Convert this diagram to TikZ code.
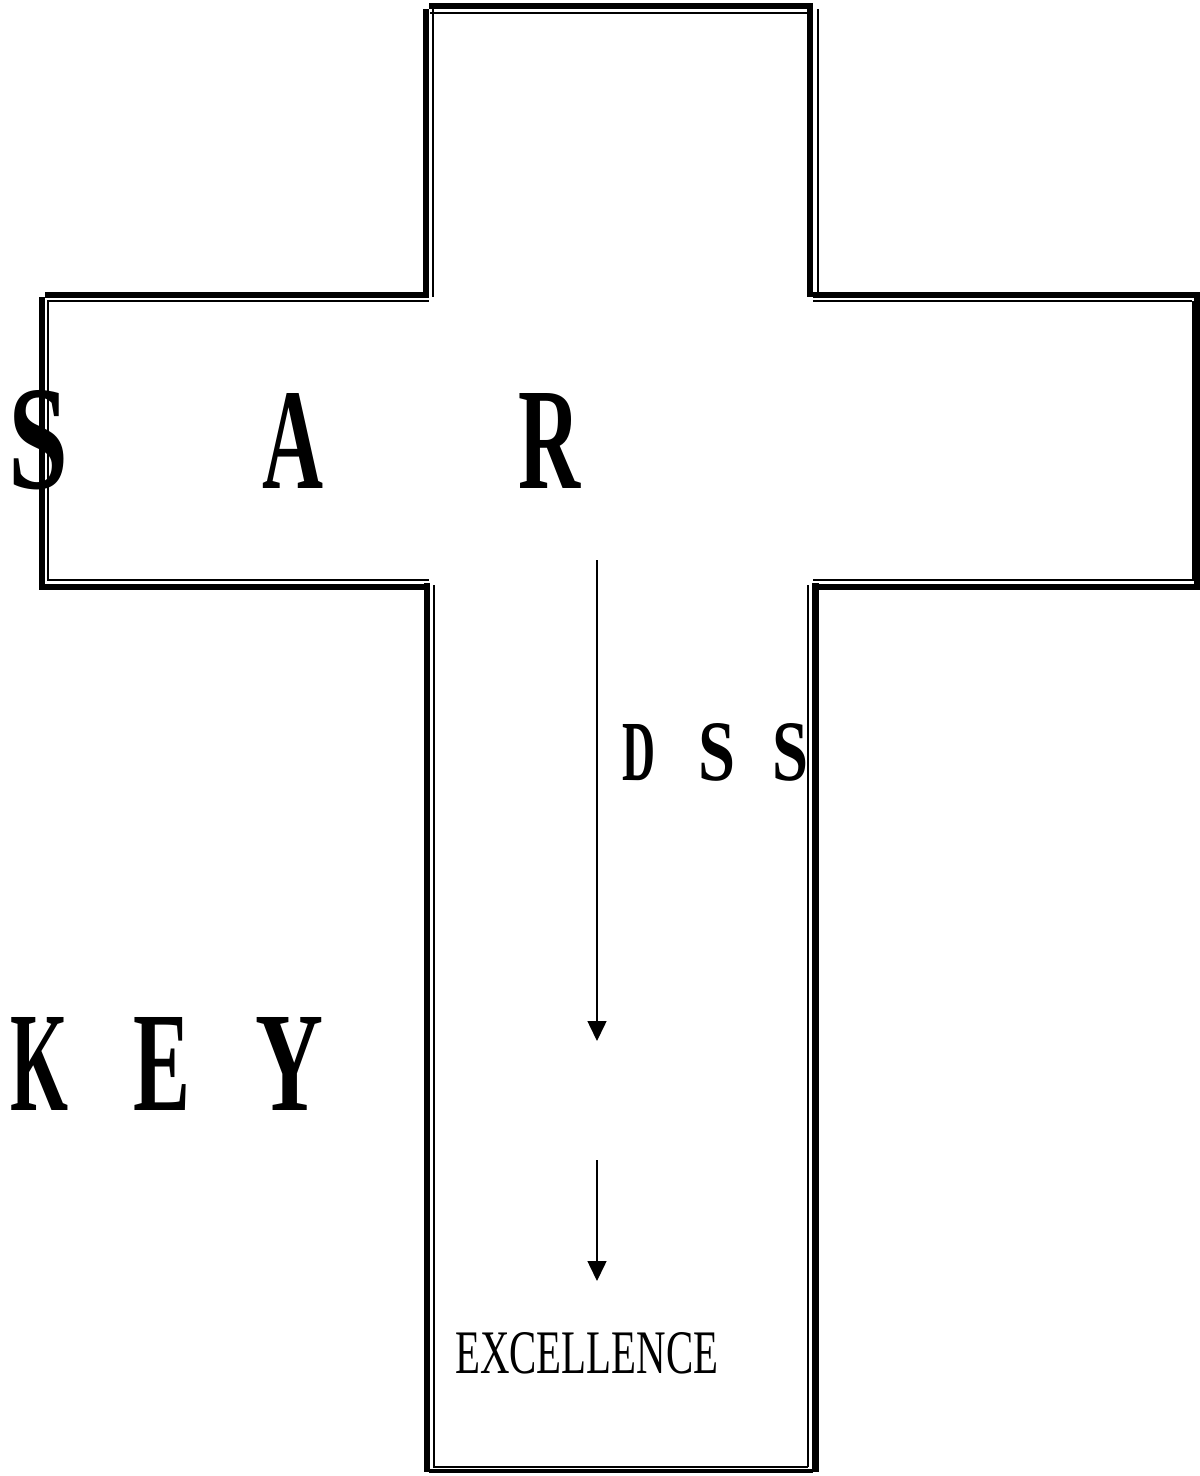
\documentclass[tikz,border=0pt]{standalone}
\usepackage{fontspec}
\setmainfont{Liberation Serif}
\usepackage{graphicx}
\usetikzlibrary{arrows.meta}
\newcommand\sqz[3]{\resizebox{#2pt}{#3pt}{\bfseries #1}}
\begin{document}
\begin{tikzpicture}[x=1pt,y=-1pt,
  thk/.style={line width=6pt,line cap=butt},
  thn/.style={line width=2pt,line cap=butt},
  lbl/.style={inner sep=0pt,anchor=base west},
  arr/.style={line width=1.5pt,-{Triangle[length=20pt,width=19pt]}}]
\useasboundingbox (0,0) rectangle (1200,1476);
% vertical arm, upper part
\draw[thk] (429,6.3) -- (813.3,6.3);
\draw[thn] (430,12.5) -- (807,12.5);
\draw[thk] (426.3,9) -- (426.3,297);
\draw[thn] (433,9) -- (433,297);
\draw[thk] (810.3,9) -- (810.3,297);
\draw[thn] (818,9) -- (818,297);
% horizontal arm
\draw[thk] (45,294.7) -- (429,294.7);
\draw[thn] (48,301) -- (429,301);
\draw[thk] (813,294.7) -- (1197,294.7);
\draw[thn] (813,301) -- (1192,301);
\draw[thk] (42,297) -- (42,590);
\draw[thn] (47.5,300) -- (47.5,581);
\draw[thk] (1197,292) -- (1197,590);
\draw[thn] (1192.5,301) -- (1192.5,581);
\draw[thn] (48,580.2) -- (429,580.2);
\draw[thk] (45,587) -- (430,587);
\draw[thn] (813,580.2) -- (1192,580.2);
\draw[thk] (813,587) -- (1197,587);
% vertical arm, lower part
\draw[thk] (426.5,583) -- (426.5,1472);
\draw[thn] (433.5,585) -- (433.5,1467);
\draw[thn] (808.3,585) -- (808.3,1467);
\draw[line width=7pt,line cap=butt] (815.8,583) -- (815.8,1472);
\draw[thn] (433,1467.3) -- (808,1467.3);
\draw[line width=4pt,line cap=butt] (429,1471) -- (813,1471);
% texts
\node[lbl] (sar) at (8,488) {\sqz{S}{60}{98}\hspace{194pt}\sqz{A}{61}{95}\hspace{195pt}\sqz{R}{62}{95}};
\node[lbl] (key) at (10,1110) {\sqz{K}{58}{93}\hspace{65pt}\sqz{E}{57}{93}\hspace{65pt}\sqz{Y}{68}{93}};
\node[lbl] (dss) at (622,780) {\sqz{D}{33}{56}\hspace{43pt}\sqz{S}{37}{57}\hspace{37pt}\sqz{S}{36}{57}};
\node[lbl] (exc) at (455,1373) {\resizebox{263pt}{41pt}{EXCELLENCE}};
% arrows
\coordinate (a1s) at (597,560);
\coordinate (a1e) at (597,1041);
\coordinate (a2s) at (597,1160);
\coordinate (a2e) at (597,1281);
\draw[arr] (a1s) -- (a1e);
\draw[arr] (a2s) -- (a2e);
\end{tikzpicture}
\end{document}
